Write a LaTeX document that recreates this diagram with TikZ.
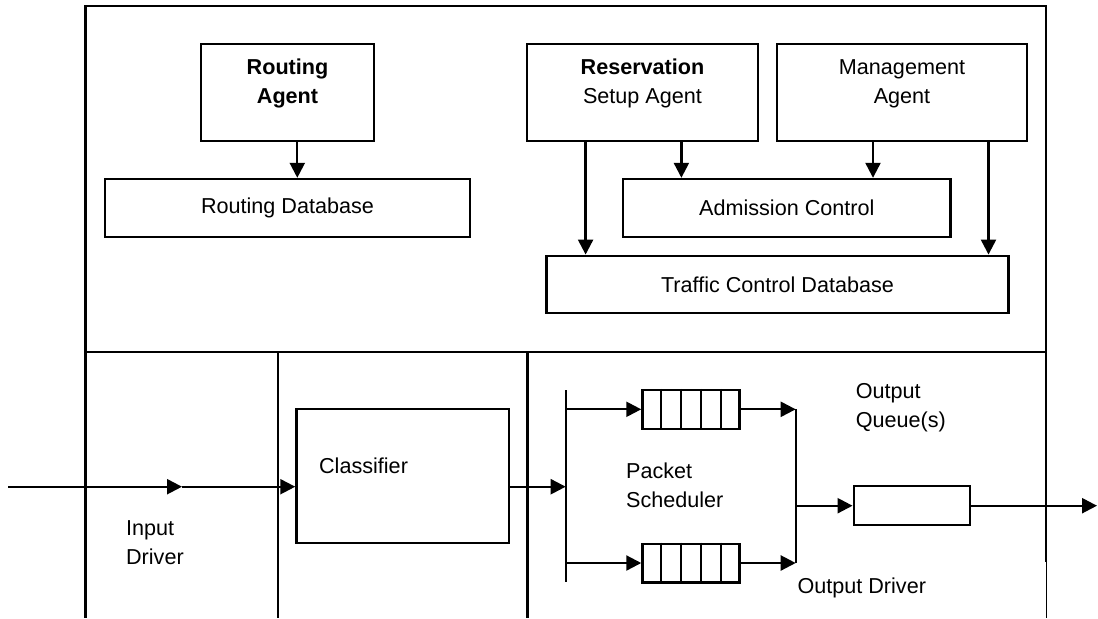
\documentclass[tikz,border=0pt]{standalone}
\usepackage{fontspec}
\setmainfont{Liberation Sans}
\usepackage{tikz}
\usetikzlibrary{calc,arrows.meta,positioning}
\newcommand{\diafont}{\fontsize{10.8}{14.5}\selectfont}

\begin{document}
\begin{tikzpicture}[x=0.5pt,y=-0.5pt, line width=1.15pt,
    box/.style={draw, rectangle, inner sep=0pt, font=\diafont},
    lbl/.style={inner sep=0pt, font=\diafont, align=center},
    arr/.style={-{Triangle[length=7.5pt,width=7.5pt]}}]
    \useasboundingbox (0,0) rectangle (1098,618);

    % frame: control part on top, data path split in columns below
    \draw (85.5,6) rectangle (1045.7,351.7);
    \draw (85.5,351.7) -- (85.5,618);
    \draw (278.3,351.7) -- (278.3,618);
    \draw (527.5,351.7) -- (527.5,618);
    \draw (1045.7,351.7) -- (1045.7,562);
    \draw[line width=0.8pt] (1046.5,562) -- (1046.5,618);

    % agents
    \node[box, minimum width=86.8pt, minimum height=48.2pt] (routagent) at (287.5,92.5) {};
    \node[lbl, font=\diafont\bfseries, yshift=4.5pt] (routagenttxt) at (routagent) {Routing\\Agent};
    \node[box, minimum width=115.2pt, minimum height=48.2pt] (resagent) at (642.5,92.5) {};
    \node[lbl, yshift=4.5pt] (resagenttxt) at (resagent) {\textbf{Reservation}\\Setup Agent};
    \node[box, minimum width=125pt, minimum height=48.2pt] (mgmtagent) at (902,92.5) {};
    \node[lbl, yshift=4.5pt] (mgmtagenttxt) at (mgmtagent) {Management\\Agent};

    % databases and admission control
    \node[box, minimum width=182.5pt, minimum height=28.85pt] (routdb) at (287.5,207.8) {Routing Database};
    \node[box, minimum width=163.8pt, minimum height=28.85pt] (admctl) at (786.8,207.8) {Admission Control};
    \node[box, minimum width=231pt, minimum height=28.8pt] (tcdb) at (777.5,284.5) {Traffic Control Database};

    % x positions of the downward arrows
    \coordinate (rax) at (297.3,0);
    \coordinate (resx) at (585.6,0);
    \coordinate (resy) at (681.4,0);
    \coordinate (mgx) at (873,0);
    \coordinate (mgy) at (988.5,0);
    \draw[arr] (routagent.south -| rax) -- (routdb.north -| rax);
    \draw[arr] (resagent.south -| resx) -- (tcdb.north -| resx);
    \draw[arr] (resagent.south -| resy) -- (admctl.north -| resy);
    \draw[arr] (mgmtagent.south -| mgx) -- (admctl.north -| mgx);
    \draw[arr] (mgmtagent.south -| mgy) -- (tcdb.north -| mgy);

    % input driver and classifier
    \coordinate (inl) at (8,486.7);
    \coordinate (inmid) at (182,486.7);
    \node[box, minimum width=106.3pt, minimum height=67pt] (classifier) at (402.7,476.3) {};
    \node[lbl, anchor=west] (classifiertxt) at (318,465.7) {Classifier};
    \draw[arr] (inl) -- (inmid);
    \draw[arr] (inmid) -- (classifier.west |- inl);

    % packet scheduler with two queues
    \coordinate (schtop) at (565.7,390);
    \coordinate (schbot) at (565.7,582);
    \draw (schtop) -- (schbot);
    \draw[arr] (classifier.east |- inl) -- (schtop |- inl);

    \node[box, minimum width=48.5pt, minimum height=19.35pt] (topq) at (690.9,409.3) {};
    \node[box, minimum width=48.5pt, minimum height=19.35pt] (botq) at (690.9,563) {};
    \foreach \q in {topq,botq}
        \foreach \i in {1,...,4}
            \draw ($(\q.north west)!\i/5!(\q.north east)$) -- ($(\q.south west)!\i/5!(\q.south east)$);

    \coordinate (mrgtop) at (795.7,409.3);
    \coordinate (mrgbot) at (795.7,563);
    \draw (mrgtop) -- (mrgbot);
    \draw[arr] (schtop |- topq) -- (topq.west);
    \draw[arr] (schtop |- botq) -- (botq.west);
    \draw[arr] (topq.east) -- (mrgtop |- topq);
    \draw[arr] (botq.east) -- (mrgtop |- botq);

    % output driver
    \node[box, minimum width=58pt, minimum height=19.5pt] (outq) at (911.7,505.7) {};
    \coordinate (outr) at (1097,505.7);
    \draw[arr] (mrgtop |- outq) -- (outq.west);
    \draw[arr] (outq.east) -- (outr);

    % labels
    \node[lbl, anchor=west, align=left] (inputtxt) at (125,542.5) {Input\\Driver};
    \node[lbl, anchor=west, align=left] (pschedtxt) at (625,485) {Packet\\Scheduler};
    \node[lbl, anchor=west, align=left] (outqtxt) at (854.7,408) {Output\\Queue(s)};
    \node[lbl, anchor=west] (outdrvtxt) at (796.4,588.3) {Output Driver};
\end{tikzpicture}
\end{document}
